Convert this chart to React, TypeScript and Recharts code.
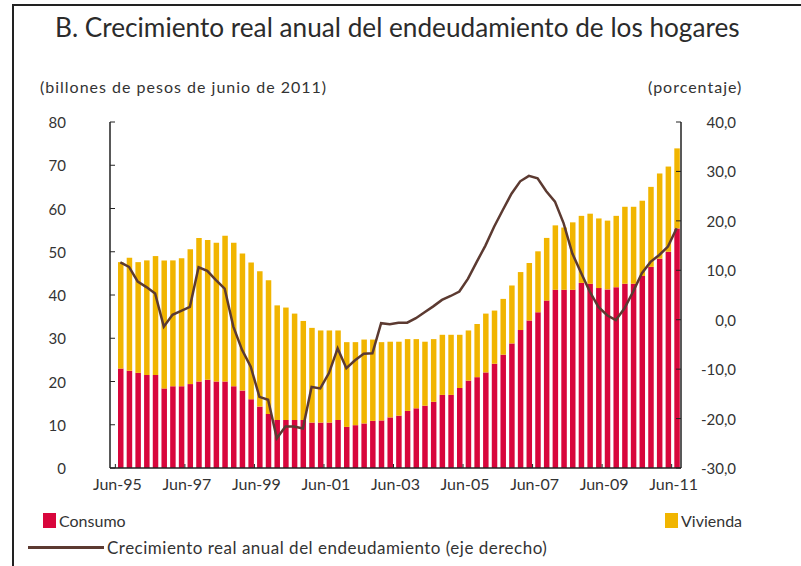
import React from "react";
import { ComposedChart, Bar, Line, XAxis, YAxis } from "recharts";

const years = ["95", "96", "97", "98", "99", "00", "01", "02", "03", "04", "05", "06", "07", "08", "09", "10", "11"];
const months = ["Jun", "Sep", "Dic", "Mar"];

// quarters Jun-95 .. Jun-11
const quarters: string[] = [];
years.forEach((y, i) => {
  months.forEach((m, j) => {
    if (j === 3 && i + 1 < years.length) quarters.push(`${m}-${years[i + 1]}`);
    else if (j < 3 && (i < years.length - 1 || j === 0)) quarters.push(`${m}-${y}`);
  });
});

const tickLabels = ["Jun-95", "Jun-97", "Jun-99", "Jun-01", "Jun-03", "Jun-05", "Jun-07", "Jun-09", "Jun-11"];

const consumo = [
  23.0, 22.5, 22.0, 21.5, 21.5, 18.4, 18.9, 18.9, 19.4, 20.0,
  20.4, 20.0, 20.0, 18.9, 17.9, 15.9, 14.2, 12.5, 11.1, 11.1,
  11.1, 11.1, 10.5, 10.5, 10.5, 11.1, 9.5, 9.9, 10.3, 10.9,
  11.0, 11.7, 12.1, 13.2, 13.8, 14.4, 15.3, 16.9, 16.9, 18.5,
  20.2, 21.0, 22.1, 24.1, 26.2, 28.8, 31.9, 34.1, 36.0, 38.7,
  41.2, 41.2, 41.2, 42.8, 42.6, 41.6, 41.3, 41.8, 42.6, 42.6,
  44.4, 46.5, 48.4, 50.0, 55.4,
];

const vivienda = [
  24.6, 26.1, 25.6, 26.5, 27.5, 29.6, 29.1, 29.6, 31.2, 33.2,
  32.3, 32.1, 33.7, 33.2, 31.7, 31.6, 31.3, 30.9, 26.5, 26.0,
  24.6, 22.9, 21.9, 21.3, 21.3, 20.7, 19.6, 19.2, 19.4, 18.8,
  18.1, 17.5, 17.1, 16.6, 16.0, 14.8, 14.5, 13.9, 13.9, 12.3,
  11.6, 12.3, 13.6, 12.3, 12.9, 13.4, 13.4, 13.3, 14.1, 14.5,
  14.9, 14.4, 15.6, 15.5, 16.2, 16.1, 15.9, 16.5, 17.8, 17.8,
  17.4, 18.5, 19.7, 19.7, 18.5,
];

const crecimiento = [
  11.6, 10.7, 7.7, 6.6, 5.3, -1.4, 1.0, 1.8, 2.6, 10.6,
  9.9, 8.0, 6.3, -1.4, -6.1, -9.5, -15.6, -16.2, -24.0, -21.6,
  -21.6, -22.0, -13.6, -13.9, -10.8, -5.8, -9.8, -8.2, -6.9, -6.8,
  -0.7, -0.9, -0.6, -0.6, 0.3, 1.5, 2.7, 4.0, 4.8, 5.7,
  8.3, 11.7, 15.0, 18.8, 22.2, 25.5, 28.0, 29.1, 28.6, 26.0,
  23.9, 19.5, 13.4, 9.5, 5.7, 2.6, 0.9, -0.1, 2.3, 5.7,
  9.4, 11.7, 13.1, 14.8, 18.5,
];

const leftTicks = [0, 10, 20, 30, 40, 50, 60, 70, 80];
const rightTicks = [-30, -20, -10, 0, 10, 20, 30, 40];

const data = quarters.map((q, i) => ({
  q,
  consumo: consumo[i],
  vivienda: vivienda[i],
  crecimiento: crecimiento[i],
}));

const FONT = "Lato, 'Open Sans', sans-serif";
const TEXT = "#333";
const RED = "#D8063C";
const GOLD = "#F1B500";
const BROWN = "#5C3A31";

const series = [
  { key: "consumo", name: "Consumo", color: RED },
  { key: "vivienda", name: "Vivienda", color: GOLD },
  { key: "crecimiento", name: "Crecimiento real anual del endeudamiento (eje derecho)", color: BROWN },
];

const LeftTick = ({ x, y, payload }: any) => (
  <g>
    <line x1={x} x2={x + 5} y1={y} y2={y} stroke="#222" />
    <text x={x - 44} y={y} textAnchor="end" dominantBaseline="central" fontSize={15} fill={TEXT} fontFamily={FONT}>
      {payload.value}
    </text>
  </g>
);

const RightTick = ({ x, y, payload }: any) => (
  <g>
    <line x1={x - 5} x2={x} y1={y} y2={y} stroke="#222" />
    <text x={x + 55} y={y} textAnchor="end" dominantBaseline="central" fontSize={15} fill={TEXT} fontFamily={FONT}>
      {payload.value.toFixed(1).replace(".", ",")}
    </text>
  </g>
);

const BottomTick = ({ x, y, payload }: any) => (
  <g>
    <line x1={x - 5} x2={x - 5} y1={y - 4} y2={y} stroke="#222" />
    <text x={x - 3} y={y + 22} textAnchor="middle" fontSize={16} fill={TEXT} fontFamily={FONT}>
      {payload.value}
    </text>
  </g>
);

export default function App() {
  const [c, v, l] = series;
  const legendTxt: React.CSSProperties = { fontSize: 16, color: TEXT, whiteSpace: "nowrap" };
  return (
    <div
      style={{
        position: "absolute",
        left: 0,
        top: 0,
        width: 801,
        height: 566,
        overflow: "hidden",
        background: "#fff",
        fontFamily: FONT,
      }}
    >
      <div
        style={{
          position: "absolute",
          left: 12,
          top: 4,
          width: 820,
          height: 600,
          borderLeft: "2px solid #222",
          borderTop: "2px solid #222",
        }}
      />
      <div style={{ position: "absolute", left: 55, top: 11, fontSize: 26.2, color: "#2b2b2b", whiteSpace: "nowrap" }}>
        B. Crecimiento real anual del endeudamiento de los hogares
      </div>
      <div style={{ position: "absolute", left: 40, top: 77, fontSize: 16, letterSpacing: 1, color: TEXT, whiteSpace: "nowrap" }}>
        (billones de pesos de junio de 2011)
      </div>
      <div style={{ position: "absolute", left: 648, top: 77, fontSize: 16, letterSpacing: 1, color: TEXT }}>(porcentaje)</div>
      <div style={{ position: "absolute", left: 0, top: 0 }}>
        <ComposedChart
          width={801}
          height={566}
          data={data}
          margin={{ top: 122, right: 60, bottom: 68, left: 60 }}
          barSize={5.5}
        >
          <XAxis
            dataKey="q"
            ticks={tickLabels}
            interval={0}
            padding={{ left: 6, right: 0 }}
            axisLine={{ stroke: "#222", strokeWidth: 1.5 }}
            tickLine={false}
            tickSize={0}
            tickMargin={0}
            tick={<BottomTick />}
            height={30}
          />
          <YAxis
            yAxisId="left"
            domain={[0, 80]}
            ticks={leftTicks}
            width={50}
            axisLine={{ stroke: "#222", strokeWidth: 1.5 }}
            tickLine={false}
            tickSize={0}
            tickMargin={0}
            tick={<LeftTick />}
          />
          <YAxis
            yAxisId="right"
            orientation="right"
            domain={[-30, 40]}
            ticks={rightTicks}
            width={60}
            axisLine={{ stroke: "#222", strokeWidth: 1.5 }}
            tickLine={false}
            tickSize={0}
            tickMargin={0}
            tick={<RightTick />}
          />
          <Bar yAxisId="left" dataKey={c.key} name={c.name} stackId="a" fill={c.color} isAnimationActive={false} />
          <Bar yAxisId="left" dataKey={v.key} name={v.name} stackId="a" fill={v.color} isAnimationActive={false} />
          <Line
            yAxisId="right"
            dataKey={l.key}
            name={l.name}
            type="linear"
            stroke={l.color}
            strokeWidth={2.5}
            dot={false}
            isAnimationActive={false}
          />
        </ComposedChart>
      </div>
      {/* legend */}
      <div style={{ position: "absolute", left: 43, top: 511, display: "flex", alignItems: "center" }}>
        <span style={{ width: 13, height: 15, background: c.color, marginRight: 3 }} />
        <span style={legendTxt}>{c.name}</span>
      </div>
      <div style={{ position: "absolute", left: 665, top: 511, display: "flex", alignItems: "center" }}>
        <span style={{ width: 13, height: 15, background: v.color, marginRight: 3 }} />
        <span style={legendTxt}>{v.name}</span>
      </div>
      <div style={{ position: "absolute", left: 28, top: 537, display: "flex", alignItems: "center" }}>
        <span style={{ width: 76, height: 3, background: l.color, marginRight: 3 }} />
        <span style={{ ...legendTxt, fontSize: 17, letterSpacing: 0.5 }}>{l.name}</span>
      </div>
    </div>
  );
}
